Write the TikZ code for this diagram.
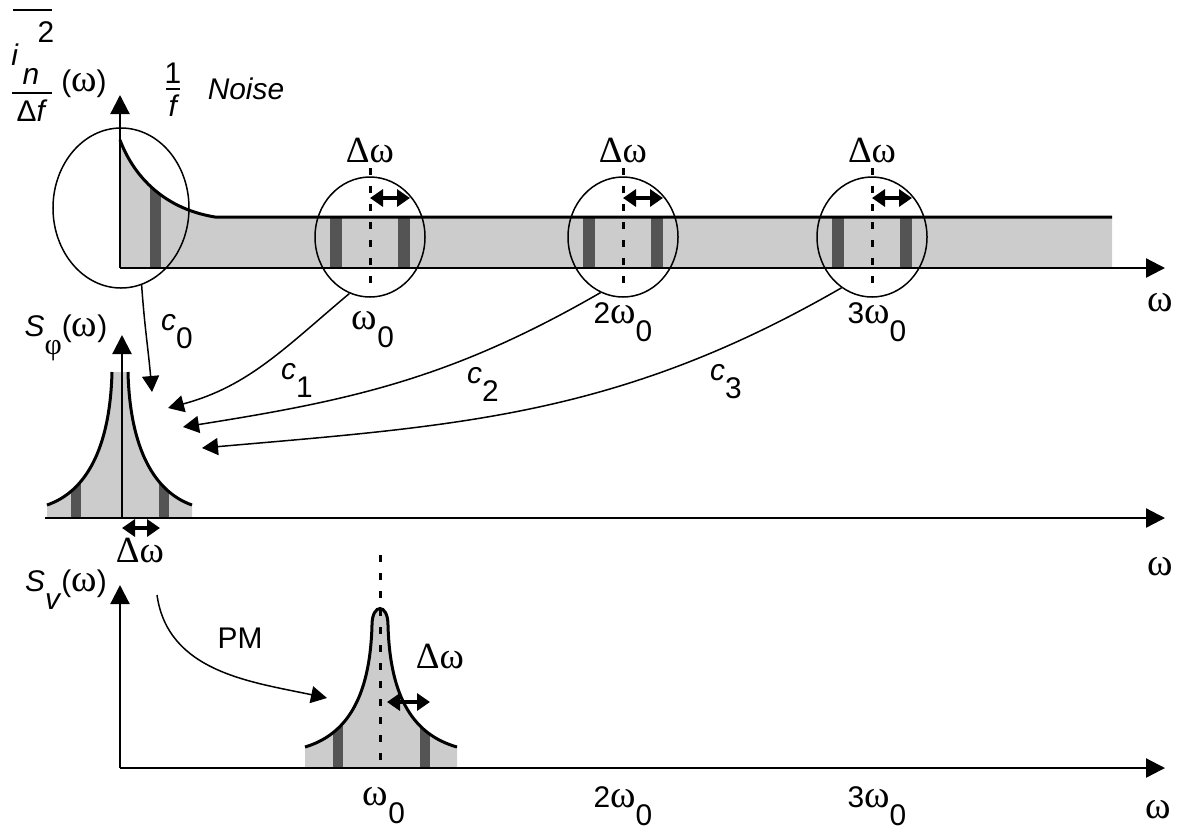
\documentclass[tikz,border=0pt]{standalone}
\usepackage{fontspec}
\setmainfont{Liberation Sans}
\newfontfamily\grk{Liberation Serif}
\usetikzlibrary{arrows.meta,shapes.geometric}
\definecolor{bandgray}{gray}{0.80}
\definecolor{bargray}{gray}{0.33}
\newcommand{\lo}[1]{\raisebox{-0.6em}{#1}}
\newcommand{\om}{{\grk\fontsize{22pt}{24pt}\selectfont ω}}
\newcommand{\dw}{{\grk\fontsize{21pt}{23pt}\selectfont Δω}}
\tikzset{
  axis/.style={line width=0.45mm, -{Triangle[length=3.8mm,width=3.8mm]}},
  ring/.style={draw, ellipse, line width=0.3mm, minimum width=22mm, minimum height=24mm, inner sep=0pt},
  band/.style={fill=bandgray},
  bar/.style={fill=bargray},
  rim/.style={line width=0.6mm},
  dotline/.style={line width=0.6mm, dash pattern=on 1.4mm off 2.2mm},
  harm/.style={line width=0.3mm, -{Triangle[length=3.2mm,width=3.4mm]}},
  span/.style={line width=0.9mm, {Triangle[length=2.6mm,width=3.4mm]}-{Triangle[length=2.6mm,width=3.4mm]}},
  lab/.style={font=\fontsize{17pt}{19pt}\selectfont, inner sep=0pt},
}
\begin{document}
\begin{tikzpicture}[x=0.2mm,y=-0.2mm]
    \useasboundingbox (0,0) rectangle (1187,832);

    % 噪声谱
    \fill[band] (120,268) -- (120,140) .. controls (132,172) and (160,208) .. (215,217) -- (1112,217) -- (1112,268) -- cycle;
    \begin{scope}
        \clip (120,268) -- (120,140) .. controls (132,172) and (160,208) .. (215,217) -- (1112,217) -- (1112,268) -- cycle;
        \fill[bar] (150,100) rectangle (161,268);
        \foreach \c in {370,623,872} {
            \fill[bar] (\c-40,100) rectangle (\c-28,268);
            \fill[bar] (\c+28,100) rectangle (\c+40,268);
        }
    \end{scope}
    \draw[rim] (120,140) .. controls (132,172) and (160,208) .. (215,217) -- (1112,217);
    \coordinate (o1) at (120,268);
    \draw[axis] (o1) -- (1165,268) coordinate (x1);
    \draw[axis] (o1) -- (120,95) coordinate (y1);

    \node[ring, minimum width=27.2mm, minimum height=32mm] (r0) at (121,208) {};
    \foreach \c/\i in {370/1,623/2,872/3} {
        \node[ring] (r\i) at (\c,237) {};
        \draw[dotline] (\c,168) -- (\c,284);
        \draw[span] (\c,198) -- (\c+40,198);
        \node[lab] (dw\i) at (\c,150) {\dw};
    }

    % 纵轴标注
    \draw[line width=0.4mm] (13,10) -- (52,10);
    \node[lab] (ii) at (15,55) {\textit{i}};
    \node[lab] (nn) at (31,76) {\textit{n}};
    \node[lab] (sq) at (46,32) {2};
    \draw[line width=0.4mm] (12,93) -- (52,93);
    \node[lab] (df) at (32,111) {Δ\textit{f}};
    \node[lab] (wf) at (84,84) {(\om)};
    \node[lab] (one) at (173,73) {1};
    \draw[line width=0.4mm] (166,89) -- (180,89);
    \node[lab] (ff) at (174,106) {\textit{f}};
    \node[lab] (noise) at (246,89) {\textit{Noise}};

    \node[lab] (w1) at (373,330) {\om\lo{0}};
    \node[lab] (w2) at (623,322) {2\om\lo{0}};
    \node[lab] (w3) at (877,322) {3\om\lo{0}};
    \node[lab] (wx1) at (1160,303) {\om};

    % 下变频
    \coordinate (c0e) at (152,392);
    \coordinate (c1e) at (168,408);
    \coordinate (c2e) at (183,427);
    \coordinate (c3e) at (202,448);
    \draw[harm] (r0.285) to[out=-86,in=95] (c0e);
    \draw[harm] (r1.250) to[out=220,in=15] (c1e);
    \draw[harm] (r2.248) to[out=210,in=9] (c2e);
    \draw[harm] (r3.239) to[out=210,in=5] (c3e);
    \node[lab] (k0) at (177,332) {\textit{c}\lo{0}};
    \node[lab] (k1) at (297,380) {\textit{c}\lo{1}};
    \node[lab] (k2) at (483,384) {\textit{c}\lo{2}};
    \node[lab] (k3) at (726,382) {\textit{c}\lo{3}};

    % 相位噪声
    \fill[band] (47,518) -- (47,505) .. controls (85,492) and (110,450) .. (112,372) -- (128,372) .. controls (130,450) and (155,492) .. (192,505) -- (192,518) -- cycle;
    \begin{scope}
        \clip (47,518) -- (47,505) .. controls (85,492) and (110,450) .. (112,372) -- (128,372) .. controls (130,450) and (155,492) .. (192,505) -- (192,518) -- cycle;
        \fill[bar] (71,360) rectangle (81,518);
        \fill[bar] (159,360) rectangle (169,518);
    \end{scope}
    \draw[rim] (47,505) .. controls (85,492) and (110,450) .. (112,372);
    \draw[rim] (128,372) .. controls (130,450) and (155,492) .. (192,505);
    \coordinate (o2) at (122,518);
    \draw[axis] (45,518) -- (1165,518) coordinate (x2);
    \draw[axis] (o2) -- (122,335) coordinate (y2);
    \draw[span] (122,528) -- (160,528);
    \node[lab] (dw4) at (140,550) {\dw};
    \node[lab] (sphi) at (66,338) {\textit{S}\lo{\grk φ}(\om)};
    \node[lab] (wx2) at (1160,567) {\om};

    % 输出电压谱
    \fill[band] (305,768) -- (305,747) .. controls (345,735) and (370,700) .. (372,625) .. controls (372,603) and (388,603) .. (388,625) .. controls (390,700) and (415,735) .. (457,747) -- (457,768) -- cycle;
    \begin{scope}
        \clip (305,768) -- (305,747) .. controls (345,735) and (370,700) .. (372,625) .. controls (372,603) and (388,603) .. (388,625) .. controls (390,700) and (415,735) .. (457,747) -- (457,768) -- cycle;
        \fill[bar] (333,600) rectangle (343,768);
        \fill[bar] (420,600) rectangle (430,768);
    \end{scope}
    \draw[rim] (305,747) .. controls (345,735) and (370,700) .. (372,625) .. controls (372,603) and (388,603) .. (388,625) .. controls (390,700) and (415,735) .. (457,747);
    \draw[dotline] (380,555) -- (380,768);
    \coordinate (o3) at (120,768);
    \draw[axis] (o3) -- (1165,768) coordinate (x3);
    \draw[axis] (o3) -- (120,585) coordinate (y3);
    \draw[span] (387,702) -- (430,702);
    \node[lab] (dw5) at (440,656) {\dw};
    \node[lab] (sv) at (66,590) {\textit{S}\lo{\textit{v}}(\om)};

    \coordinate (pms) at (157,595);
    \coordinate (pme) at (327,698);
    \draw[harm] (pms) to[out=-82,in=168] (pme);
    \node[lab] (pm) at (240,638) {PM};

    \node[lab] (b1) at (384,806) {\om\lo{0}};
    \node[lab] (b2) at (623,806) {2\om\lo{0}};
    \node[lab] (b3) at (877,806) {3\om\lo{0}};
    \node[lab] (wx3) at (1158,810) {\om};
\end{tikzpicture}
\end{document}
